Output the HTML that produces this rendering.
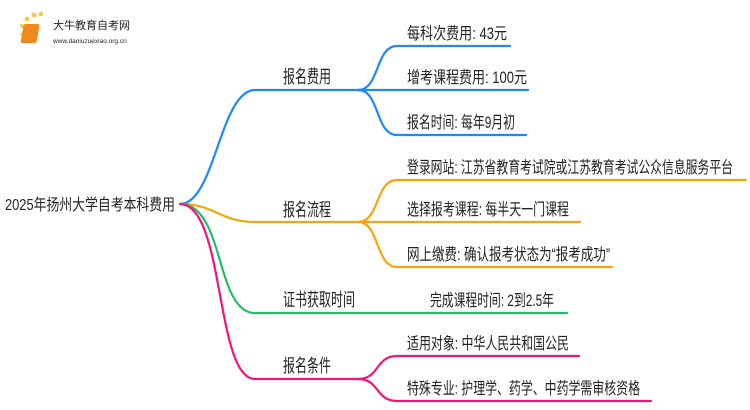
<!DOCTYPE html>
<html><head><meta charset="utf-8"><style>
html,body{margin:0;padding:0;background:#fff;width:750px;height:410px;overflow:hidden}
text{font-family:"Liberation Sans","Noto Sans CJK SC",sans-serif;fill:#222}
</style></head><body>
<svg width="750" height="410" viewBox="0 0 750 410" xmlns="http://www.w3.org/2000/svg">
<g fill="none" stroke-width="2.2" stroke-linecap="round">
<path d="M180 204 C215 204 220 90 255 90 L358 90" stroke="#1e88f5"/>
<path d="M358 90 C380 90 375 46 397 46 L510 46" stroke="#1e88f5"/>
<path d="M358 90 L528 90" stroke="#1e88f5"/>
<path d="M358 90 C380 90 375 135 397 135 L526 135" stroke="#1e88f5"/>
<path d="M180 204 C215 204 220 222 255 222 L358 222" stroke="#f5a50b"/>
<path d="M358 222 C380 222 375 180 397 180 L746 180" stroke="#f5a50b"/>
<path d="M358 222 L580 222" stroke="#f5a50b"/>
<path d="M358 222 C380 222 375 267 397 267 L612 267" stroke="#f5a50b"/>
<path d="M180 204 C225 204 215 313 255 313 L567 313" stroke="#1fbf6a"/>
<path d="M180 204 C225 204 215 379 255 379 L358 379" stroke="#f0157a"/>
<path d="M358 379 C380 379 375 356 397 356 L579 356" stroke="#f0157a"/>
<path d="M358 379 C380 379 375 401 397 401 L651 401" stroke="#f0157a"/>
</g>
<g>
<circle cx="22" cy="26" r="2" fill="#f7c64a"/><circle cx="27" cy="19" r="2.3" fill="#f7c64a"/><circle cx="34" cy="15" r="2.5" fill="#f7c64a"/><circle cx="41" cy="14" r="2.3" fill="#f7c64a"/><circle cx="22" cy="34" r="1.8" fill="#f7c64a"/>
<rect x="28" y="24" width="16" height="19" rx="2" fill="#f08a1c" transform="skewX(-10)"/>
<text x="53" y="29" font-size="11" fill="#333">大牛教育自考网</text>
<text x="53" y="43" font-size="6.5" fill="#666">www.daniuzuexiao.org.cn</text>
</g>
<text x="5" y="210" font-size="16" textLength="170" lengthAdjust="spacingAndGlyphs">2025年扬州大学自考本科费用</text>
<g font-size="18">
<text x="283" y="83" textLength="48" lengthAdjust="spacingAndGlyphs">报名费用</text>
<text x="283" y="216" textLength="48" lengthAdjust="spacingAndGlyphs">报名流程</text>
<text x="283" y="306" textLength="72" lengthAdjust="spacingAndGlyphs">证书获取时间</text>
<text x="283" y="372" textLength="48" lengthAdjust="spacingAndGlyphs">报名条件</text>
</g>
<g font-size="16.5">
<text x="407" y="39" textLength="100" lengthAdjust="spacingAndGlyphs">每科次费用: 43元</text>
<text x="407" y="83" textLength="120" lengthAdjust="spacingAndGlyphs">增考课程费用: 100元</text>
<text x="407" y="128" textLength="108" lengthAdjust="spacingAndGlyphs">报名时间: 每年9月初</text>
<text x="407" y="173" textLength="326" lengthAdjust="spacingAndGlyphs">登录网站: 江苏省教育考试院或江苏教育考试公众信息服务平台</text>
<text x="407" y="215" textLength="162" lengthAdjust="spacingAndGlyphs">选择报考课程: 每半天一门课程</text>
<text x="407" y="260" textLength="203" lengthAdjust="spacingAndGlyphs">网上缴费: 确认报考状态为“报考成功”</text>
<text x="430" y="306" textLength="124" lengthAdjust="spacingAndGlyphs">完成课程时间: 2到2.5年</text>
<text x="407" y="349" textLength="162" lengthAdjust="spacingAndGlyphs">适用对象: 中华人民共和国公民</text>
<text x="407" y="394" textLength="233" lengthAdjust="spacingAndGlyphs">特殊专业: 护理学、药学、中药学需审核资格</text>
</g>
</svg>
</body></html>
